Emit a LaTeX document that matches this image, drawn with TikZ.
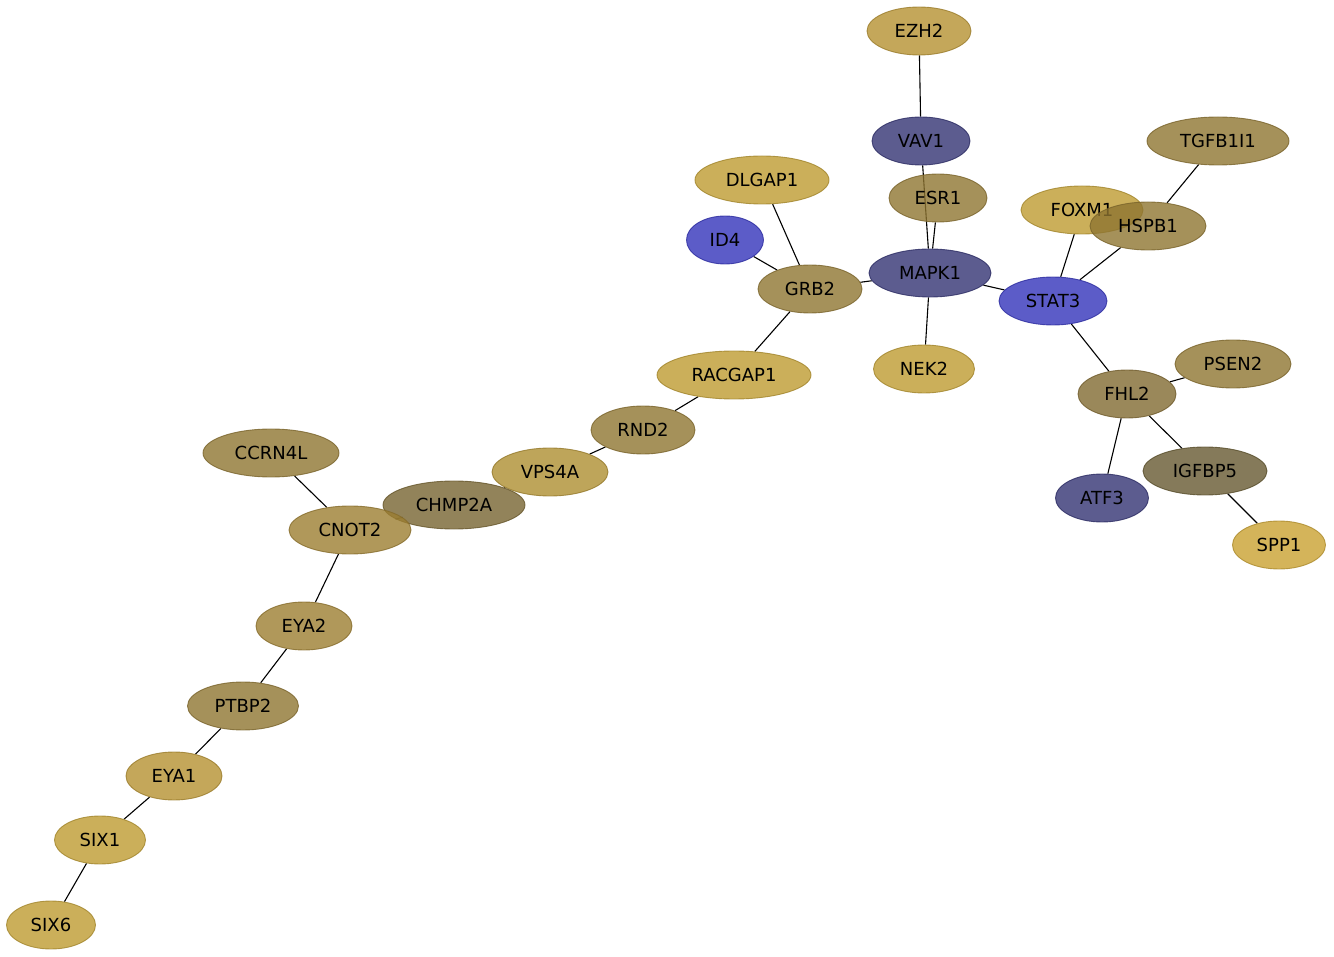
\documentclass[tikz,border=0pt]{standalone}
\usepackage{fontspec}
\setmainfont{DejaVu Sans}
\usetikzlibrary{shapes.geometric,backgrounds}
\definecolor{cgoldA}{RGB}{181,145,49}
\definecolor{cgoldB}{RGB}{190,155,49}
\definecolor{cgoldC}{RGB}{201,161,49}
\definecolor{cvps}{RGB}{174,142,49}
\definecolor{ccnot}{RGB}{156,126,49}
\definecolor{colive}{RGB}{142,117,49}
\definecolor{cfhl}{RGB}{129,106,49}
\definecolor{cchmp}{RGB}{119,100,49}
\definecolor{cigf}{RGB}{102,89,49}
\definecolor{cdblue}{RGB}{51,51,115}
\definecolor{cblue}{RGB}{51,51,186}
\tikzset{
  gene/.style={ellipse, inner sep=0pt, fill=#1, draw=#1!85!black, fill opacity=0.8, draw opacity=0.8, text opacity=1, line width=0.9pt, minimum height=48pt, font=\fontsize{18}{20}\selectfont},
  link/.style={draw=black, line width=1.1pt}
}
\begin{document}
\begin{tikzpicture}[x=1pt,y=-1pt]
\useasboundingbox (0,0) rectangle (1334,957);
\node[gene=cgoldA, minimum width=104pt] (EZH2) at (919,31) {EZH2};
\node[gene=cdblue, minimum width=98pt] (VAV1) at (921,141) {VAV1};
\node[gene=cgoldB, minimum width=134pt] (DLGAP1) at (762,180) {DLGAP1};
\node[gene=colive, minimum width=98pt] (ESR1) at (938,198) {ESR1};
\node[gene=colive, minimum width=142pt] (TGFB1I1) at (1218,141) {TGFB1I1};
\node[gene=cgoldB, minimum width=122pt] (FOXM1) at (1082,210) {FOXM1};
\node[gene=colive, minimum width=116pt] (HSPB1) at (1148,226) {HSPB1};
\node[gene=cblue, minimum width=77pt] (ID4) at (725,240) {ID4};
\node[gene=colive, minimum width=104pt] (GRB2) at (810,289) {GRB2};
\node[gene=cdblue, minimum width=122pt] (MAPK1) at (930,273) {MAPK1};
\node[gene=cblue, minimum width=108pt] (STAT3) at (1053,301) {STAT3};
\node[gene=cgoldB, minimum width=101pt] (NEK2) at (924,369) {NEK2};
\node[gene=cgoldB, minimum width=154pt] (RACGAP1) at (734,375) {RACGAP1};
\node[gene=colive, minimum width=116pt] (PSEN2) at (1233,364) {PSEN2};
\node[gene=cfhl, minimum width=98pt] (FHL2) at (1127,394) {FHL2};
\node[gene=colive, minimum width=104pt] (RND2) at (643,430) {RND2};
\node[gene=colive, minimum width=136pt] (CCRN4L) at (271,453) {CCRN4L};
\node[gene=cvps, minimum width=116pt] (VPS4A) at (550,472) {VPS4A};
\node[gene=cigf, minimum width=124pt] (IGFBP5) at (1205,471) {IGFBP5};
\node[gene=cdblue, minimum width=93pt] (ATF3) at (1102,498) {ATF3};
\node[gene=cchmp, minimum width=142pt] (CHMP2A) at (454,505) {CHMP2A};
\node[gene=ccnot, minimum width=122pt] (CNOT2) at (350,530) {CNOT2};
\node[gene=cgoldC, minimum width=93pt] (SPP1) at (1279,545) {SPP1};
\node[gene=ccnot, minimum width=96pt] (EYA2) at (304,626) {EYA2};
\node[gene=colive, minimum width=111pt] (PTBP2) at (243,706) {PTBP2};
\node[gene=cgoldA, minimum width=96pt] (EYA1) at (174,776) {EYA1};
\node[gene=cgoldB, minimum width=91pt] (SIX1) at (100,840) {SIX1};
\node[gene=cgoldB, minimum width=89pt] (SIX6) at (51,925) {SIX6};
\begin{scope}[on background layer]
\draw[link] (EZH2) -- (VAV1);
\draw[link] (VAV1) -- (MAPK1);
\draw[link] (ESR1) -- (MAPK1);
\draw[link] (DLGAP1) -- (GRB2);
\draw[link] (ID4) -- (GRB2);
\draw[link] (GRB2) -- (MAPK1);
\draw[link] (GRB2) -- (RACGAP1);
\draw[link] (MAPK1) -- (STAT3);
\draw[link] (MAPK1) -- (NEK2);
\draw[link] (STAT3) -- (FOXM1);
\draw[link] (STAT3) -- (HSPB1);
\draw[link] (HSPB1) -- (TGFB1I1);
\draw[link] (STAT3) -- (FHL2);
\draw[link] (FHL2) -- (PSEN2);
\draw[link] (FHL2) -- (ATF3);
\draw[link] (FHL2) -- (IGFBP5);
\draw[link] (IGFBP5) -- (SPP1);
\draw[link] (RACGAP1) -- (RND2);
\draw[link] (RND2) -- (VPS4A);
\draw[link] (VPS4A) -- (CHMP2A);
\draw[link] (CHMP2A) -- (CNOT2);
\draw[link] (CCRN4L) -- (CNOT2);
\draw[link] (CNOT2) -- (EYA2);
\draw[link] (EYA2) -- (PTBP2);
\draw[link] (PTBP2) -- (EYA1);
\draw[link] (EYA1) -- (SIX1);
\draw[link] (SIX1) -- (SIX6);
\end{scope}
\end{tikzpicture}
\end{document}
